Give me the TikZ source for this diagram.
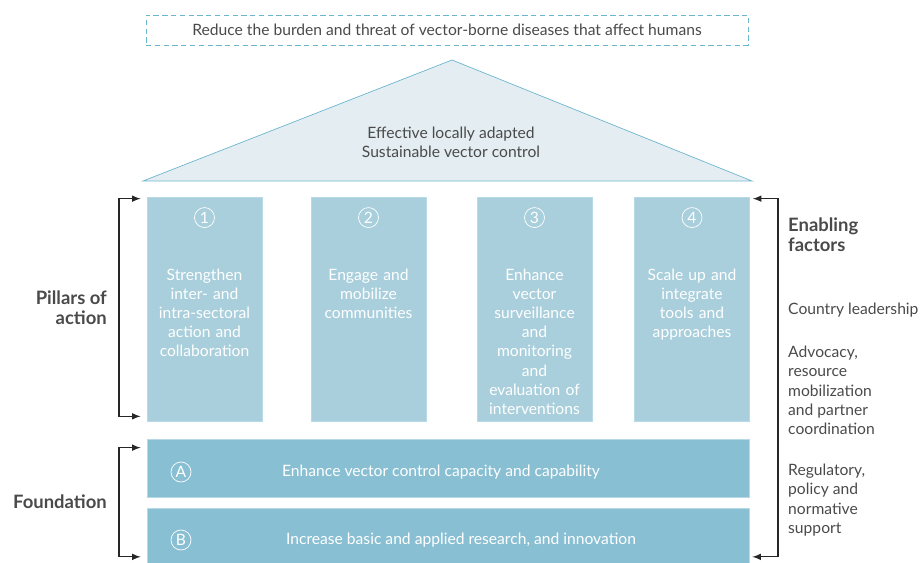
\documentclass[tikz,border=0pt]{standalone}
\usepackage{fontspec}
\setmainfont{Lato}
\usetikzlibrary{positioning}
\definecolor{pillarblue}{HTML}{A9CFDC}
\definecolor{baseblue}{HTML}{89BFD3}
\definecolor{roofblue}{HTML}{E4EEF2}
\definecolor{lineblue}{HTML}{6DB6CF}
\definecolor{textgrey}{HTML}{4A4A4A}
\begin{document}
\begin{tikzpicture}
[x=0.02cm, y=-0.02cm, font=\fontsize{8.9}{10.9}\selectfont, text=textgrey,
% STYLES
% The pillar style is used to draw the four pillars of action
pillar/.style={rectangle, draw=lineblue!50, fill=pillarblue, minimum width=2.3cm, minimum height=4.48cm, inner sep=0pt},
% The base style is used to draw the two foundation blocks
base/.style={rectangle, draw=lineblue!50, fill=baseblue, minimum width=12.04cm, inner sep=0pt},
num/.style={circle, draw=white, text=white, minimum size=0.4cm, inner sep=0pt},
inpillar/.style={text=white, text width=2.2cm, align=center, anchor=north},
side/.style={font=\fontsize{10.5}{11.4}\selectfont\bfseries, align=right, anchor=east},
factor/.style={align=left, anchor=north west},
bracket/.style={>=latex, <->, line width=0.7pt, draw=black!85}]

\useasboundingbox (0,0) rectangle (922,563);

% Draw goal and roof
\node [draw=lineblue, dash pattern=on 3pt off 2pt, minimum width=12.04cm, minimum height=0.6cm] (goal) at (447,30) {Reduce the burden and threat of vector-borne diseases that affect humans};
\draw [draw=lineblue, fill=roofblue] (143,181) -- (452,60) -- (752,181) -- cycle;
\node [align=center] (roof) at (451,142) {Effective locally adapted\\Sustainable vector control};

% Draw pillars
\node [pillar] (p1) at (204.5,309) {};
\node [pillar] (p2) at (368.5,309) {};
\node [pillar] (p3) at (534.5,309) {};
\node [pillar] (p4) at (692,309) {};
\foreach \i/\txt in {1/{Strengthen\\inter- and\\intra-sectoral\\action and\\collaboration},
  2/{Engage and\\mobilize\\communities},
  3/{Enhance\\vector\\surveillance\\and\\monitoring\\and\\evaluation of\\interventions},
  4/{Scale up and\\integrate\\tools and\\approaches}}
{
  \node [num, below=6pt of p\i.north] (n\i) {\i};
  \node [inpillar] (t\i) at ([yshift=-1.32cm]p\i.north) {\txt};
}

% Draw foundation
\node [base, minimum height=1.16cm] (fa) at (448,468) {};
\node [base, minimum height=1.1cm] (fb) at (448,536) {};
\node [num] (na) at (181,472) {A};
\node [num] (nb) at (181,540) {B};
\node [text=white] (ta) at (441,472) {Enhance vector control capacity and capability};
\node [text=white] (tb) at (461,540) {Increase basic and applied research, and innovation};

% Draw side labels
\node [side] (action) at (113,308) {Pillars of\\action};
\node [side] (found) at (113,502) {Foundation};
\node [factor, font=\fontsize{10.5}{11.4}\selectfont\bfseries] (enab) at (782,212) {Enabling\\factors};
\node [factor] (lead) at (782,297) {Country leadership};
\node [factor] (advo) at (782,340) {Advocacy,\\resource\\mobilization\\and partner\\coordination};
\node [factor] (regu) at (782,458) {Regulatory,\\policy and\\normative\\support};

% Draw brackets
\coordinate (lpil) at (119,300);
\coordinate (lfou) at (119,500);
\coordinate (renab) at (778,400);
\draw [bracket] ([xshift=-0.12cm,yshift=-0.04cm]p1.north west) -| (lpil) |- ([xshift=-0.12cm,yshift=0.1cm]p1.south west);
\draw [bracket] ([xshift=-0.12cm,yshift=-0.18cm]fa.north west) -| (lfou) |- ([xshift=-0.12cm,yshift=0.14cm]fb.south west);
\draw [bracket] ([xshift=0.06cm,yshift=-0.04cm]p4.north east) -| (renab) |- ([xshift=0.06cm,yshift=0.14cm]fb.south east);

\end{tikzpicture}
\end{document}
